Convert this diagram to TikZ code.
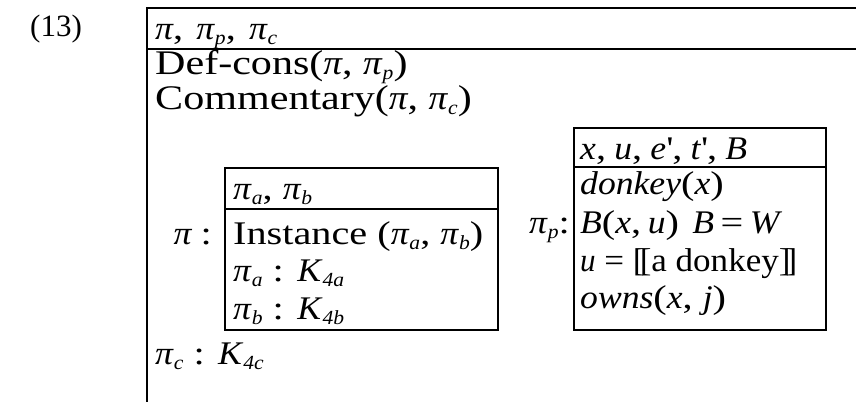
\documentclass[tikz,border=0pt]{standalone}
\usepackage{fontspec}
\setmainfont{Liberation Serif}[UprightFeatures={FakeStretch=1.22},ItalicFeatures={FakeStretch=1.08}]
\newfontfamily\numfont{Liberation Serif}
\newcommand{\fs}{\fontsize{33}{36}\selectfont}
\newcommand{\fb}{\fontsize{34.5}{38}\selectfont}
\newcommand{\sbs}[1]{\raisebox{-0.17em}{\fontsize{20}{20}\selectfont\itshape #1}}
\newcommand{\pii}{\textit{π}}
\newcommand{\dbl}[1]{#1\kern-0.17em#1}
\begin{document}
\begin{tikzpicture}[x=1pt,y=-1pt,
  txt/.style={anchor=base west, inner sep=0pt, font=\fs},
  btxt/.style={anchor=base west, inner sep=0pt, font=\fb},
  rtxt/.style={anchor=base east, inner sep=0pt, font=\fs},
  rule/.style={line width=1.3pt}]
\useasboundingbox (0,0) rectangle (856,402);
% outer box (open to the right and bottom)
\coordinate (otl) at (147,8);
\coordinate (otr) at (856,8);
\coordinate (oml) at (147,49);
\coordinate (omr) at (856,49);
\coordinate (obl) at (147,402);
\draw[rule] (otr) -- (otl) -- (obl);
\draw[rule] (oml) -- (omr);
\node[anchor=base west, inner sep=0pt, font=\numfont\fontsize{31}{34}\selectfont] (num) at (30,36) {(13)};
\node[txt] (hdr) at (155,39) {\pii,\hspace{0.4em}\pii\sbs{p},\hspace{0.4em}\pii\sbs{c}};
\node[btxt] (def) at (155,74) {Def-cons(\pii,\ \pii\sbs{p})};
\node[btxt] (com) at (155,109) {Commentary(\pii,\ \pii\sbs{c})};
% box A
\draw[rule] (225,168) rectangle (498,330);
\draw[rule] (225,209) -- (498,209);
\node[rtxt] (pilab) at (212,244) {\pii\hspace{0.25em}:};
\node[txt] (ahdr) at (233,199) {\pii\sbs{a},\ \pii\sbs{b}};
\node[txt] (inst) at (233,244) {Instance (\pii\sbs{a},\ \pii\sbs{b})};
\node[txt] (ka) at (233,281) {\pii\sbs{a} : \textit{K}\sbs{4a}};
\node[txt] (kb) at (233,319) {\pii\sbs{b} : \textit{K}\sbs{4b}};
% box p
\draw[rule] (574,128) rectangle (826,330);
\draw[rule] (574,167) -- (826,167);
\node[rtxt] (pplab) at (570,233) {\pii\sbs{p}:};
\node[txt] (phdr) at (580,159) {\textit{x},\hspace{0.25em}\textit{u},\hspace{0.25em}\textit{e}\textquotesingle,\hspace{0.25em}\textit{t}\textquotesingle,\hspace{0.25em}\textit{B}};
\node[txt] (don) at (580,194) {\textit{donkey}(\textit{x})};
\node[txt] (bxu) at (580,233) {\textit{B}(\textit{x},\hspace{0.2em}\textit{u})\hspace{0.4em}\textit{B}\hspace{0.2em}=\hspace{0.2em}\textit{W}};
\node[txt] (ueq) at (580,271) {\scalebox{0.87}[1]{\textit{u} = \dbl{[}a donkey\dbl{]}}};
\node[txt] (own) at (580,308) {\textit{owns}(\textit{x}, \textit{j})};
% pi_c
\node[txt] (kc) at (155,364) {\pii\sbs{c} : \textit{K}\sbs{4c}};
\end{tikzpicture}
\end{document}
